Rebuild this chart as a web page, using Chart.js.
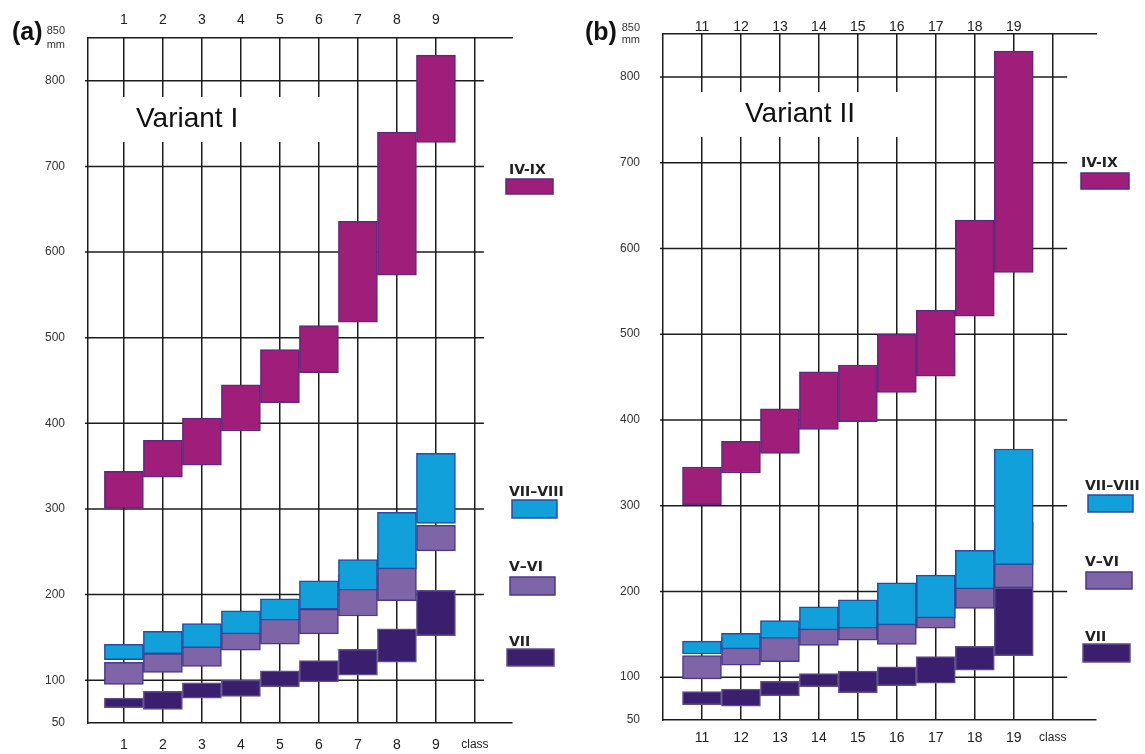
<!DOCTYPE html>
<html>
<head>
<meta charset="utf-8">
<title>Variant I / Variant II</title>
<script src="https://cdn.jsdelivr.net/npm/chart.js@4.4.1/dist/chart.umd.min.js"></script>
<style>
  html, body { margin: 0; padding: 0; background: #fff; }
  #wrap { position: relative; width: 1145px; height: 754px; overflow: hidden; }
  #panelA { position: absolute; left: 0; top: 0; }
  #panelB { position: absolute; left: 572px; top: 0; }
</style>
</head>
<body>
<div id="wrap">
  <canvas id="panelA" width="572" height="754"></canvas>
  <canvas id="panelB" width="573" height="754"></canvas>
</div>
<script>
// classes on the x axis
const classesA = [1, 2, 3, 4, 5, 6, 7, 8, 9];
const classesB = [11, 12, 13, 14, 15, 16, 17, 18, 19];

// y ticks (mm)
const yTicks = [50, 100, 200, 300, 400, 500, 600, 700, 800, 850];

const seriesNames = ["IV-IX", "VII–VIII", "V–VI", "VII"];

// Variant I : [low, high] per class
const ivixA = [[301, 344], [337, 380], [351, 406], [391, 445], [424, 486], [459, 514], [518, 636], [573, 740], [728, 830]];
const viiviiiA = [[124, 142], [131, 157], [138, 166], [154, 181], [170, 195], [183, 216], [205, 241], [230, 296], [283, 365]];
const vviA = [[95, 121], [109, 131], [116, 144], [135, 161], [142, 176], [154, 183], [175, 223], [193, 248], [251, 281]];
const viiA = [[68, 79], [66, 87], [79, 97], [81, 100], [92, 111], [98, 123], [106, 136], [121, 160], [152, 205]];

// Variant II : [low, high] per class
const ivixB = [[301, 345], [338, 375], [361, 413], [389, 456], [398, 464], [432, 500], [451, 528], [521, 633], [572, 830]];
const viiviiiB = [[127, 142], [133, 151], [145, 166], [155, 182], [157, 190], [161, 210], [169, 219], [203, 248], [231, 366]];
const vviB = [[98, 125], [114, 146], [118, 148], [137, 157], [143, 164], [138, 180], [157, 193], [180, 216], [204, 281]];
const viiB = [[68, 83], [66, 86], [78, 95], [89, 104], [82, 107], [90, 112], [93, 124], [108, 136], [125, 204]];

const fills = ["#9e1e7a", "#12a0da", "#7d65a8", "#3b1f6f"];
const borders = ["#5b2a7e", "#2b4aa0", "#4a3888", "#5e4e8a"];

const lineColor = "#1c1c1c";
const sans = '"Liberation Sans", Arial, Helvetica, sans-serif';
Chart.defaults.font.family = sans;

// grid lines, white title box, panel letter and legend
const panelDeco = {
  id: "panelDeco",
  beforeDatasetsDraw(chart, args, opts) {
    const { ctx, chartArea } = chart;
    const x = chart.scales.x, y = chart.scales.y;
    ctx.save();
    ctx.strokeStyle = lineColor;
    ctx.lineWidth = 1.5;
    const xEnd = x.getPixelForValue(opts.gridEnd);
    yTicks.filter(v => v > y.min && v < y.max).forEach(v => {
      const py = y.getPixelForValue(v);
      ctx.beginPath();
      ctx.moveTo(chartArea.left - 3, py);
      ctx.lineTo(xEnd, py);
      ctx.stroke();
    });
    const b = opts.box;
    ctx.fillStyle = "#fff";
    ctx.fillRect(b.left, b.top, b.width, b.height);
    ctx.fillStyle = "#111";
    ctx.font = "28px " + sans;
    ctx.textBaseline = "middle";
    ctx.fillText(opts.title, b.textX, b.top + b.height / 2);
    ctx.restore();
  },
  afterDraw(chart, args, opts) {
    const { ctx } = chart;
    ctx.save();
    ctx.fillStyle = "#111";
    ctx.font = "bold 25px " + sans;
    ctx.textBaseline = "middle";
    ctx.fillText(opts.letter, opts.letterX, 33);
    chart.data.datasets.forEach((ds, i) => {
      const it = opts.legend[i];
      ctx.fillStyle = "#222";
      ctx.font = 'bold 14px "DejaVu Sans", Verdana, sans-serif';
      ctx.textBaseline = "middle";
      ctx.fillText(ds.label, it.tx, it.ty);
      ctx.fillStyle = ds.backgroundColor;
      ctx.fillRect(it.sx, it.sy, it.sw, it.sh);
      ctx.strokeStyle = ds.borderColor;
      ctx.lineWidth = 1.5;
      ctx.strokeRect(it.sx, it.sy, it.sw, it.sh);
    });
    ctx.restore();
  }
};

function rangeData(classes, ranges) {
  return classes.map((c, i) => ({ x: c, y: ranges[i] }));
}

function makePanel(id, classes, series, lay) {
  const last = classes[classes.length - 1];
  const gridTicks = classes.concat([last + 1]);
  const datasets = seriesNames.map((name, i) => ({
    label: name,
    data: rangeData(classes, series[i]),
    backgroundColor: fills[i],
    borderColor: borders[i],
    borderWidth: 1.5,
    borderSkipped: false,
    grouped: false,
    barPercentage: 1,
    categoryPercentage: 1,
    xAxisID: "x",
    yAxisID: "y"
  }));

  return new Chart(document.getElementById(id), {
    type: "bar",
    data: { datasets: datasets },
    options: {
      responsive: false,
      animation: false,
      layout: { padding: { left: 0, top: 0, bottom: 0, right: lay.padRight } },
      plugins: {
        legend: { display: false },
        tooltip: { enabled: false },
        panelDeco: lay.deco
      },
      scales: {
        x: {
          type: "linear",
          position: "bottom",
          min: lay.xMin,
          max: lay.xMax,
          offset: false,
          afterBuildTicks: s => { s.ticks = gridTicks.map(v => ({ value: v })); },
          afterFit: s => { s.height = lay.bottomH; },
          grid: { color: lineColor, lineWidth: 1.5, drawTicks: false, offset: false },
          border: { display: true, color: lineColor, width: 1.5 },
          ticks: {
            autoSkip: false,
            maxRotation: 0,
            padding: lay.bottomPad,
            color: "#222",
            font: ctx => (ctx.tick && ctx.tick.value === last + 1) ? { size: 12 } : { size: 14 },
            callback: v => (v === last + 1 ? "class" : String(v))
          }
        },
        x2: {
          type: "linear",
          position: "top",
          min: lay.xMin,
          max: lay.xMax,
          offset: false,
          afterBuildTicks: s => { s.ticks = classes.map(v => ({ value: v })); },
          afterFit: s => { s.height = lay.topH; },
          grid: { display: false, drawTicks: false, offset: false },
          border: { display: true, color: lineColor, width: 1.5 },
          ticks: {
            autoSkip: false,
            maxRotation: 0,
            padding: lay.topPad,
            color: "#222",
            font: { size: 14 },
            callback: v => String(v)
          }
        },
        y: {
          type: "linear",
          min: 50,
          max: 850,
          afterBuildTicks: s => { s.ticks = yTicks.map(v => ({ value: v })); },
          afterFit: s => { s.width = lay.yW; },
          grid: { display: false },
          border: { display: true, color: lineColor, width: 1.5 },
          ticks: {
            autoSkip: false,
            padding: 15,
            color: "#333",
            font: ctx => (ctx.tick && ctx.tick.value === 850) ? { size: 11, lineHeight: lay.unitLine } : { size: 12 },
            callback: v => (v === 850 ? ["850", "mm"] : String(v))
          }
        }
      }
    },
    plugins: [panelDeco]
  });
}

makePanel("panelA", classesA, [ivixA, viiviiiA, vviA, viiA], {
  xMin: 0.08, xMax: 10.95, yW: 88, topH: 38, bottomH: 31, padRight: 60,
  topPad: 9, bottomPad: 14, unitLine: 1.35,
  deco: {
    letter: "(a)", letterX: 12, gridEnd: 10.23, title: "Variant I",
    box: { left: 108, top: 97, width: 214, height: 45, textX: 136 },
    legend: [
      { tx: 509, ty: 170, sx: 506, sy: 179, sw: 47, sh: 15 },
      { tx: 509, ty: 492, sx: 512, sy: 500, sw: 45, sh: 18 },
      { tx: 509, ty: 567, sx: 510, sy: 577, sw: 45, sh: 18 },
      { tx: 509, ty: 642, sx: 507, sy: 649, sw: 47, sh: 17 }
    ]
  }
});

makePanel("panelB", classesB, [ivixB, viiviiiB, vviB, viiB], {
  xMin: 10, xMax: 21.11, yW: 91, topH: 34, bottomH: 34, padRight: 49,
  topPad: -2, bottomPad: 10, unitLine: 1.05,
  deco: {
    letter: "(b)", letterX: 13, gridEnd: 20.37, title: "Variant II",
    box: { left: 108, top: 92, width: 220, height: 45, textX: 173 },
    legend: [
      { tx: 509, ty: 163, sx: 509, sy: 173, sw: 48, sh: 16 },
      { tx: 513, ty: 486, sx: 516, sy: 495, sw: 45, sh: 17 },
      { tx: 513, ty: 562, sx: 514, sy: 572, sw: 46, sh: 17 },
      { tx: 513, ty: 637, sx: 511, sy: 644, sw: 47, sh: 18 }
    ]
  }
});
</script>
</body>
</html>
